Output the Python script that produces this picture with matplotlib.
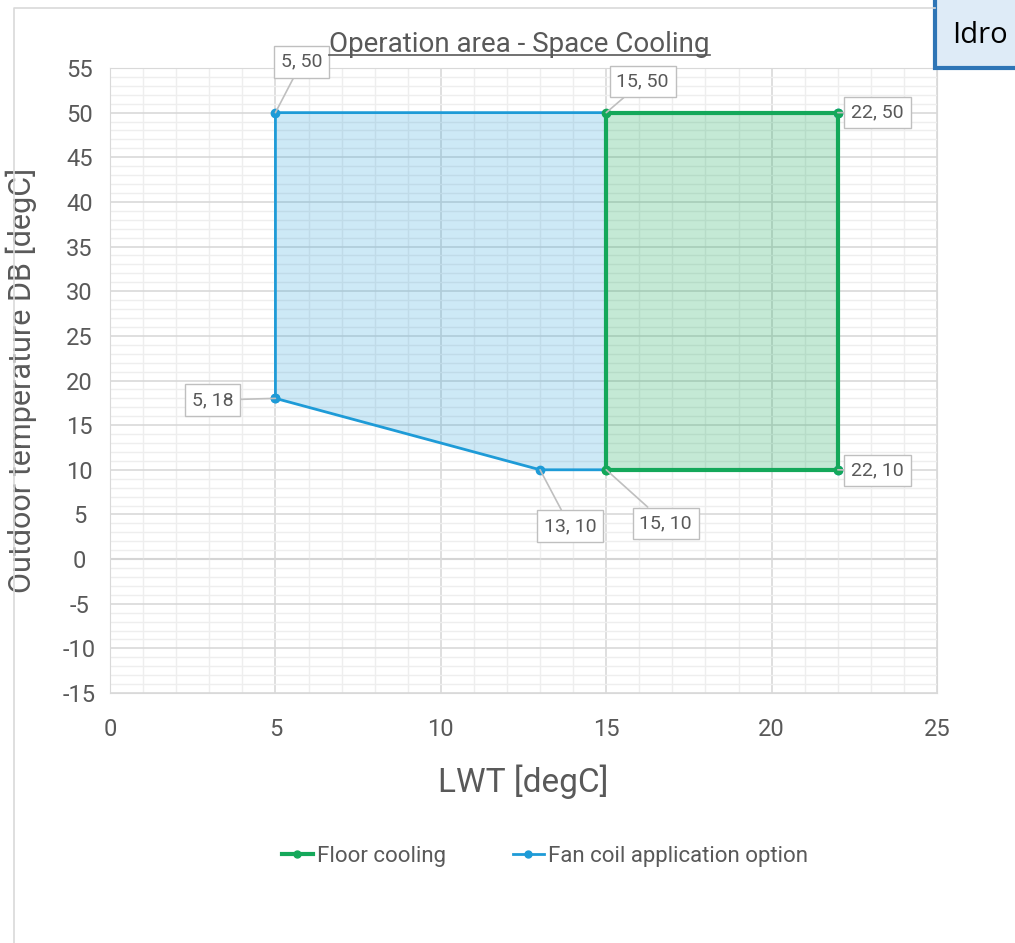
import matplotlib.pyplot as plt
from matplotlib.patches import Rectangle
from matplotlib.lines import Line2D
from matplotlib.ticker import MultipleLocator

plt.rcParams['font.family'] = ['Roboto', 'DejaVu Sans']
plt.rcParams['axes.unicode_minus'] = False

# data
floor_x = [15, 15, 22, 22, 15]
floor_y = [10, 50, 50, 10, 10]
fan_x = [5, 5, 22, 22, 13, 5]
fan_y = [18, 50, 50, 10, 10, 18]
fan_fill_x = [5, 5, 15, 15, 13]
fan_fill_y = [18, 50, 50, 10, 10]
point_labels = ["5, 50", "15, 50", "22, 50", "5, 18", "13, 10", "15, 10", "22, 10"]
point_xy = [(5, 50), (15, 50), (22, 50), (5, 18), (13, 10), (15, 10), (22, 10)]
label_xy = [(5.8, 55.7), (16.1, 53.5), (23.2, 50.0), (3.1, 17.8), (13.9, 3.7), (16.8, 4.0), (23.2, 9.9)]

GREEN = "#14a85a"
BLUE = "#1e9bd7"
GRAY = "#595959"

fig = plt.figure(figsize=(10.15, 9.43), dpi=100)
ax = fig.add_axes([0.1084, 0.2651, 0.8148, 0.6628])

ax.fill(fan_fill_x, fan_fill_y, color=BLUE, alpha=0.22, lw=0, zorder=2)
ax.fill(floor_x, floor_y, color=GREEN, alpha=0.25, lw=0, zorder=2)
ax.plot(fan_x, fan_y, color=BLUE, lw=2, marker="o", ms=6, zorder=3)
ax.plot(floor_x, floor_y, color=GREEN, lw=3, marker="o", ms=6, zorder=4)

ax.set_xlim(0, 25)
ax.set_ylim(-15, 55)
ax.xaxis.set_major_locator(MultipleLocator(5))
ax.yaxis.set_major_locator(MultipleLocator(5))
ax.xaxis.set_minor_locator(MultipleLocator(1))
ax.yaxis.set_minor_locator(MultipleLocator(1))
ax.grid(which="major", color="#d9d9d9", lw=1.2, zorder=0)
ax.grid(which="minor", color="#eeeeee", lw=1, zorder=0)
ax.set_axisbelow(True)
ax.axhline(0, color="#c4c4c4", lw=1.5, zorder=0.5)
for s in ax.spines.values():
    s.set_color("#d9d9d9")
ax.tick_params(which="both", length=0, labelsize=17, colors=GRAY)
ax.tick_params(axis="x", pad=18)
ax.tick_params(axis="y", pad=22)
for lbl in ax.get_yticklabels():
    lbl.set_horizontalalignment("center")

ax.set_xlabel("LWT [degC]", fontsize=24, color=GRAY)
ax.xaxis.set_label_coords(0.5, -0.115)
ax.set_ylabel("Outdoor temperature DB [degC]", fontsize=22, color=GRAY)
ax.yaxis.set_label_coords(-0.088, 0.5)

for txt, pt, lp in zip(point_labels, point_xy, label_xy):
    ax.annotate(txt, xy=pt, xytext=lp, ha="center", va="center", fontsize=14,
                color=GRAY, annotation_clip=False, zorder=6,
                bbox=dict(boxstyle="square,pad=0.35", fc="white", ec="#bfbfbf", lw=1),
                arrowprops=dict(arrowstyle="-", color="#bfbfbf", lw=1.2,
                                shrinkA=0, shrinkB=0))

t = fig.text(0.512, 0.953, "Operation area - Space Cooling", ha="center", va="center",
             fontsize=20, color=GRAY)
fig.canvas.draw()
bb = t.get_window_extent().transformed(fig.transFigure.inverted())
fig.add_artist(Line2D([bb.x0, bb.x1], [bb.y0 + 0.003, bb.y0 + 0.003],
                      color=GRAY, lw=1.2, transform=fig.transFigure))

handles = [Line2D([], [], color=GREEN, lw=3, marker="o", ms=5),
           Line2D([], [], color=BLUE, lw=2, marker="o", ms=5)]
fig.legend(handles, ["Floor cooling", "Fan coil application option"], loc="center",
           bbox_to_anchor=(0.537, 0.092), ncol=2, frameon=False, fontsize=16,
           labelcolor=GRAY, handlelength=1.4, handletextpad=0.2, columnspacing=3)

# chart frame and the cut-off box at the top right
fig.add_artist(Line2D([0.014, 0.014, 0.921], [0.0, 0.991, 0.991], color="#d9d9d9",
                      lw=1.2, transform=fig.transFigure))
fig.add_artist(Rectangle((0.921, 0.928), 0.1, 0.08, transform=fig.transFigure,
                         fc="#deebf7", ec="#2e75b6", lw=3))
fig.text(0.938, 0.962, "Idro", fontsize=21, color="black", va="center",
         family=["Open Sans", "DejaVu Sans"])

fig.savefig("out.png", dpi=100)
